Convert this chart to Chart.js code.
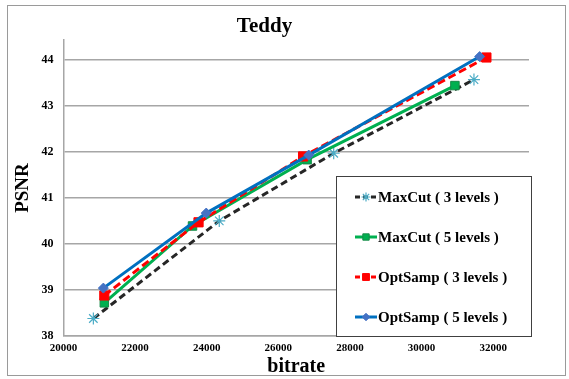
<!DOCTYPE html>
<html>
<head>
<meta charset="utf-8">
<script src="https://cdn.jsdelivr.net/npm/chart.js@4.4.1/dist/chart.umd.min.js"></script>
<style>
  html, body { margin: 0; padding: 0; background: #fff; }
  #wrap { width: 569px; height: 379px; }
</style>
</head>
<body>
<div id="wrap"><canvas id="grafico" width="569" height="379"></canvas></div>
<script>
// valores (bitrate x PSNR)
const nomesSeries = ['MaxCut ( 3 levels )', 'MaxCut ( 5 levels )', 'OptSamp ( 3 levels )', 'OptSamp ( 5 levels )'];
const maxCut3X = [20834, 24350, 27546, 31463];
const maxCut3Y = [38.38, 40.50, 41.97, 43.57];
const maxCut5X = [21140, 23603, 26803, 30931];
const maxCut5Y = [38.72, 40.39, 41.83, 43.44];
const optSamp3X = [21140, 23771, 26691, 31810];
const optSamp3Y = [38.88, 40.47, 41.90, 44.05];
const optSamp5X = [21113, 23986, 26848, 31622];
const optSamp5Y = [39.04, 40.67, 41.93, 44.07];

const ticksX = [20000, 22000, 24000, 26000, 28000, 30000, 32000];
const ticksY = [38, 39, 40, 41, 42, 43, 44];

const fonteSerif = 'Liberation Serif, Times New Roman, serif';

function pares(xs, ys) {
    return xs.map((x, i) => ({x: x, y: ys[i]}));
}

const series = [
    {label: nomesSeries[0], data: pares(maxCut3X, maxCut3Y), borderColor: '#262626', borderDash: [7, 4],
     pointStyle: 'star', pointRadius: 6, pointBorderColor: '#4bacc6', pointBackgroundColor: '#4bacc6', pointBorderWidth: 1.2, order: 3},
    {label: nomesSeries[1], data: pares(maxCut5X, maxCut5Y), borderColor: '#00b050', borderDash: [],
     pointStyle: 'rect', pointRadius: 6, pointBorderColor: '#178a48', pointBackgroundColor: '#00b050', pointBorderWidth: 1, order: 2},
    {label: nomesSeries[2], data: pares(optSamp3X, optSamp3Y), borderColor: '#ff0000', borderDash: [8, 4],
     pointStyle: 'rect', pointRadius: 6.5, pointBorderColor: '#ff0000', pointBackgroundColor: '#ff0000', pointBorderWidth: 1, order: 1},
    {label: nomesSeries[3], data: pares(optSamp5X, optSamp5Y), borderColor: '#0070c0', borderDash: [],
     pointStyle: 'rectRot', pointRadius: 5, pointBorderColor: '#4472c4', pointBackgroundColor: '#4472c4', pointBorderWidth: 1, order: 0}
];

series.forEach(s => {
    s.borderWidth = 3;
    s.fill = false;
    s.tension = 0;
});

// legenda desenhada dentro da area do grafico, como no original
const legendaCaixa = {
    id: 'legendaCaixa',
    afterDatasetsDraw(chart) {
        const ctx = chart.ctx;
        const bx = 336, by = 176, bw = 195, bh = 160;
        ctx.save();
        ctx.fillStyle = '#fff';
        ctx.fillRect(bx, by, bw, bh);
        ctx.strokeStyle = '#404040';
        ctx.lineWidth = 1;
        ctx.strokeRect(bx + 0.5, by + 0.5, bw, bh);
        chart.data.datasets.forEach((d, i) => {
            const cy = by + 21 + i * 40;
            ctx.strokeStyle = d.borderColor;
            ctx.lineWidth = 3;
            ctx.setLineDash(d.borderDash.length ? [5, 3] : []);
            ctx.beginPath();
            ctx.moveTo(355, cy);
            ctx.lineTo(377, cy);
            ctx.stroke();
            ctx.setLineDash([]);
            ctx.fillStyle = d.pointBackgroundColor;
            ctx.strokeStyle = d.pointBorderColor;
            ctx.lineWidth = d.pointBorderWidth;
            Chart.helpers.drawPoint(ctx, {pointStyle: d.pointStyle, radius: d.pointRadius * 0.75, borderWidth: d.pointBorderWidth}, 366, cy);
            ctx.fillStyle = '#000';
            ctx.font = 'bold 15px ' + fonteSerif;
            ctx.textAlign = 'left';
            ctx.textBaseline = 'middle';
            ctx.fillText(d.label, 378, cy + 1);
        });
        ctx.restore();
    },
    afterDraw(chart) {
        const ctx = chart.ctx;
        ctx.save();
        ctx.strokeStyle = '#9a9a9a';
        ctx.lineWidth = 1;
        ctx.strokeRect(7.5, 5.5, 558, 370);
        ctx.restore();
    }
};

const fundoBranco = {
    id: 'fundoBranco',
    beforeDraw(chart) {
        const ctx = chart.ctx;
        ctx.save();
        ctx.fillStyle = '#fff';
        ctx.fillRect(0, 0, chart.width, chart.height);
        ctx.restore();
    }
};

const ctx = document.getElementById('grafico').getContext('2d');
const meuGrafico = new Chart(ctx, {
    type: 'line',
    data: {datasets: series},
    options: {
        responsive: false,
        animation: false,
        layout: {padding: {top: 0, right: 40, left: 0, bottom: 0}},
        plugins: {
            legend: {display: false},
            tooltip: {enabled: false},
            title: {
                display: true,
                text: 'Teddy',
                color: '#000',
                font: {family: fonteSerif, size: 21, weight: 'bold', lineHeight: 1.2},
                padding: {top: 14, bottom: 0.8}
            }
        },
        scales: {
            x: {
                type: 'linear',
                min: 20000,
                max: 33000,
                afterFit: s => { s.height = 43; },
                afterBuildTicks: s => { s.ticks = ticksX.map(v => ({value: v})); },
                ticks: {
                    autoSkip: false,
                    color: '#000',
                    padding: 6,
                    maxRotation: 0,
                    font: {family: fonteSerif, size: 11, weight: 'bold'},
                    callback: v => String(v)
                },
                grid: {display: false, drawTicks: false},
                border: {color: '#a6a6a6', width: 1.5},
                title: {
                    display: true,
                    text: 'bitrate',
                    color: '#000',
                    font: {family: fonteSerif, size: 20, weight: 'bold', lineHeight: 1.2},
                    padding: {top: 0, bottom: 0}
                }
            },
            y: {
                min: 38,
                max: 44.43,
                afterFit: s => { s.width = 63.5; },
                afterBuildTicks: s => { s.ticks = ticksY.map(v => ({value: v})); },
                ticks: {
                    autoSkip: false,
                    color: '#000',
                    padding: 10,
                    font: {family: fonteSerif, size: 12, weight: 'bold'},
                    callback: v => String(v)
                },
                grid: {
                    drawTicks: false,
                    lineWidth: 1.5,
                    color: '#a6a6a6'
                },
                border: {color: '#a6a6a6', width: 1.5},
                title: {
                    display: true,
                    text: 'PSNR',
                    color: '#000',
                    font: {family: fonteSerif, size: 19, weight: 'bold', lineHeight: 1.2},
                    padding: {top: 12, bottom: 0}
                }
            }
        }
    },
    plugins: [fundoBranco, legendaCaixa]
});
</script>
</body>
</html>
